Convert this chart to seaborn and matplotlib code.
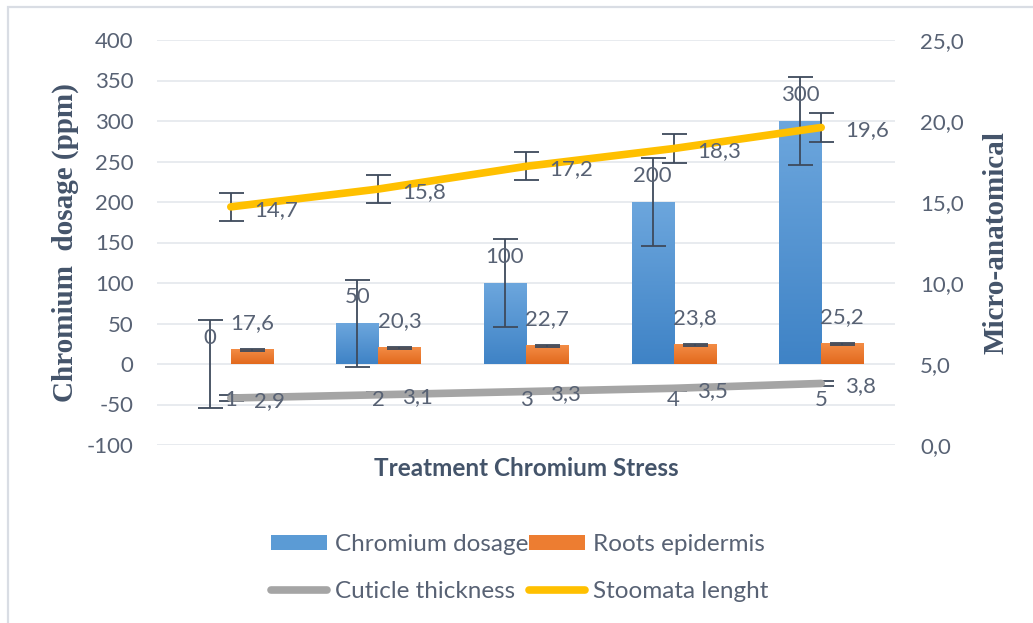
#!/usr/bin/env python3
#
# Chromium stress: dosage, roots epidermis, cuticle and stomata
#
import numpy as np
import pandas as pd
import matplotlib
matplotlib.use('Agg')
import matplotlib.pyplot as plt
import seaborn as sns
from matplotlib.patches import Patch, Rectangle
from matplotlib.lines import Line2D
from matplotlib.colors import LinearSegmentedColormap
from matplotlib.ticker import FuncFormatter

# Data
treatments = ['1', '2', '3', '4', '5']
chromium = [0, 50, 100, 200, 300]
chromium_err = [53.8, 53.8, 53.8, 53.8, 53.8]
roots = [17.6, 20.3, 22.7, 23.8, 25.2]
roots_err = [1.3, 1.3, 1.3, 1.3, 1.3]
cuticle = [2.9, 3.1, 3.3, 3.5, 3.8]
cuticle_err = [0.16, 0.16, 0.16, 0.16, 0.16]
stomata = [14.7, 15.8, 17.2, 18.3, 19.6]
stomata_err = [0.87, 0.87, 0.87, 0.87, 0.87]

series = ['Chromium dosage', 'Roots epidermis']

# Colours
blue = '#5B9BD5'
orange = '#ED7D31'
grey = '#A5A5A5'
yellow = '#FFC000'
text_col = '#586274'
title_col = '#44546A'
err_col = '#3E4A5C'
grid_col = '#E1E5EB'

gradients = {
    blue: LinearSegmentedColormap.from_list('b', ['#3F83C6', '#6CA6DD']),
    orange: LinearSegmentedColormap.from_list('o', ['#E2691D', '#F38C45']),
}

sns.set_theme(style='white')
plt.rcParams['font.family'] = ['Lato', 'DejaVu Sans']
plt.rcParams['axes.unicode_minus'] = False

def comma(v):
    return '{:.1f}'.format(v).replace('.', ',')

#
# Create figure
#
fig = plt.figure(figsize=(10.33, 6.23), dpi=100)
fig.subplots_adjust(left=157 / 1033, right=895 / 1033,
                    top=1 - 40 / 623, bottom=1 - 445 / 623)
ax = fig.add_subplot(111)

df = pd.DataFrame({
    'treatment': treatments * 2,
    'value': chromium + roots,
    'series': [series[0]] * 5 + [series[1]] * 5,
})

sns.barplot(data=df, x='treatment', y='value', hue='series',
            palette=[blue, orange], saturation=1, width=0.57,
            errorbar=None, linewidth=0, legend=False, ax=ax)

# Gradient fill, error bars and labels per series
bar_errs = [chromium_err, roots_err]
bar_labels = [[str(v) for v in chromium], [comma(v) for v in roots]]
for cont, col, errs, labs in zip(ax.containers, [blue, orange],
                                 bar_errs, bar_labels):
    xs, tops = [], []
    for bar in cont:
        x0, y0 = bar.get_x(), bar.get_y()
        w, h = bar.get_width(), bar.get_height()
        xs.append(x0 + w / 2)
        tops.append(y0 + h)
        if h > 0:
            grad = np.linspace(0, 1, 64).reshape(-1, 1)
            ax.imshow(grad, extent=[x0, x0 + w, y0, y0 + h], origin='lower',
                      cmap=gradients[col], aspect='auto', zorder=1.5,
                      interpolation='bicubic')
        bar.set_facecolor('none')
    ax.errorbar(xs, tops, yerr=errs, fmt='none', ecolor=err_col,
                elinewidth=1.3, capsize=9, capthick=1.3, zorder=4)
    for x, t, lab in zip(xs, tops, labs):
        ax.annotate(lab, (x, t), xytext=(0, 19), textcoords='offset points',
                    ha='center', va='center', fontsize=16, color=text_col,
                    zorder=5)

ax.set_xlim(-0.5, len(treatments) - 0.5)
ax.set_ylim(-100, 400)
ax.set_yticks(np.arange(-100, 401, 50))
ax.yaxis.grid(True, color=grid_col, linewidth=1.1)
ax.set_axisbelow(True)
for s in ax.spines.values():
    s.set_visible(False)
ax.tick_params(axis='x', length=0, labelbottom=False)
ax.tick_params(axis='y', length=0, pad=17, labelsize=16, labelcolor=text_col)

ax.set_xlabel('Treatment Chromium Stress', fontsize=17.5, fontweight='bold',
              color=title_col)
ax.xaxis.set_label_coords(0.5, -0.03)
ax.set_ylabel('Chromium  dosage (ppm)', family='Liberation Serif',
              fontsize=21, fontweight='bold', color=title_col)
ax.yaxis.set_label_coords(-0.106, 0.5)

#
# Lines on secondary axis
#
ax2 = ax.twinx()
pos = np.arange(len(treatments))
for vals, errs, col in [(cuticle, cuticle_err, grey),
                        (stomata, stomata_err, yellow)]:
    ax2.errorbar(pos, vals, yerr=errs, fmt='none', ecolor=err_col,
                 elinewidth=1.3, capsize=9, capthick=1.3, zorder=2)
    sns.lineplot(x=pos, y=vals, color=col, linewidth=5.5,
                 solid_capstyle='round', ax=ax2, zorder=3)
    for x, v in zip(pos, vals):
        ax2.annotate(comma(v), (x, v), xytext=(17, -2),
                     textcoords='offset points', ha='left', va='center',
                     fontsize=16, color=text_col, zorder=5)

ax2.set_ylim(0, 25)
ax2.set_yticks(np.arange(0, 26, 5))
ax2.yaxis.set_major_formatter(FuncFormatter(lambda v, p: comma(v)))
for s in ax2.spines.values():
    s.set_visible(False)
ax2.tick_params(axis='y', length=0, pad=18, labelsize=16, labelcolor=text_col)
ax2.set_ylabel('Micro-anatomical', family='Liberation Serif', fontsize=21,
               fontweight='bold', color=title_col)
ax2.yaxis.set_label_coords(1.118, 0.5)

# Category labels sit below the zero line of the left axis (= 5 on the right),
# drawn on the twin so they stay above the lines
ax2.xaxis.set_visible(True)
ax2.spines['bottom'].set_position(('data', 5))
ax2.tick_params(axis='x', length=0, pad=19, labelbottom=True, labeltop=False,
                labelsize=16, labelcolor=text_col)
ax2.set_xlabel('')
ax2.xaxis.set_zorder(6)

#
# Legend
#
handles = [
    Patch(facecolor=blue, edgecolor='none'),
    Line2D([], [], color=grey, linewidth=5.5, solid_capstyle='round'),
    Patch(facecolor=orange, edgecolor='none'),
    Line2D([], [], color=yellow, linewidth=5.5, solid_capstyle='round'),
]
labels = ['Chromium dosage', 'Cuticle thickness', 'Roots epidermis',
          'Stoomata lenght']
fig.legend(handles, labels, loc='center', bbox_to_anchor=(0.503, 0.088),
           ncol=2, frameon=False, fontsize=17.5, labelcolor=text_col,
           handlelength=2.3, handleheight=0.55, handletextpad=0.35,
           columnspacing=0.0, labelspacing=1.05)

# Chart border (top and left only visible)
fig.add_artist(Rectangle((8 / 1033, -0.1), 1.2, 1 - 7 / 623 + 0.1,
                         transform=fig.transFigure, fill=False,
                         edgecolor='#D9DDE4', linewidth=1.6))

fig.savefig('out.png', dpi=100)
